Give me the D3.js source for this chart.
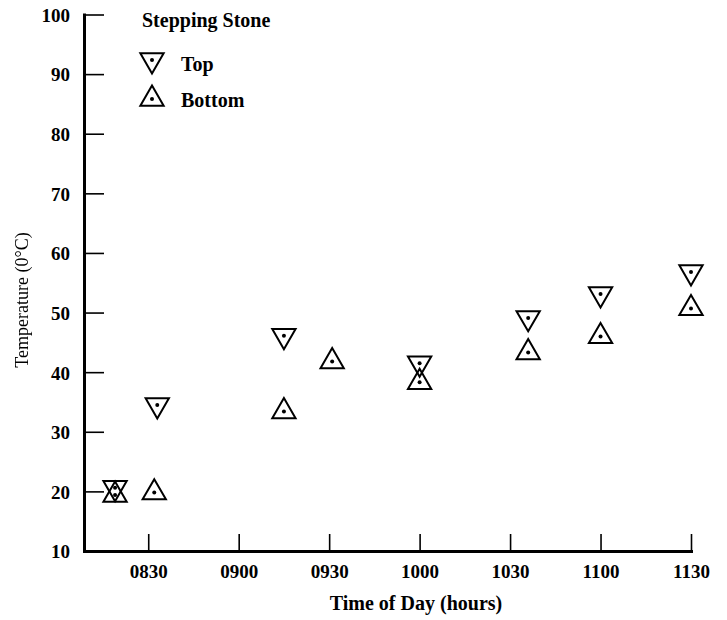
<!DOCTYPE html>
<html>
<head>
<meta charset="utf-8">
<script src="https://cdn.jsdelivr.net/npm/d3@7"></script>
<style>
  body { margin: 0; background: #fff; }
  svg { display: block; }
  text { font-family: "Liberation Serif", "DejaVu Serif", serif; fill: #000; }
  .ylabel { filter: grayscale(1); }
</style>
</head>
<body>
<svg id="chart"></svg>
<script>
// Readings taken off the figure (time as hhmm, temperature in °C)
const topTimes = ['0819', '0833', '0915', '1000', '1036', '1100', '1130'];
const topTemps = [20.6, 34.5, 46.1, 41.5, 49.1, 53.1, 56.8];
const bottomTimes = ['0819', '0832', '0915', '0931', '1000', '1036', '1100', '1130'];
const bottomTemps = [19.4, 19.8, 33.4, 41.8, 38.3, 43.3, 46.0, 50.7];
const xTickLabels = ['0830', '0900', '0930', '1000', '1030', '1100', '1130'];
const yTicks = [10, 20, 30, 40, 50, 60, 70, 80, 90, 100];

const width = 727, height = 620;
const margin = { top: 14.5, right: 36, bottom: 69, left: 84 };

// hhmm -> minutes after 0800
const toMin = s => (+s.slice(0, 2) - 8) * 60 + (+s.slice(2));

const svg = d3.select('#chart').attr('width', width).attr('height', height);

const x = d3.scaleLinear().domain([8.7, 210]).range([margin.left, width - margin.right]);
const y = d3.scaleLinear().domain([10, 100]).range([height - margin.bottom, margin.top]);

// Y axis, ticks pointing inward
const yAxis = svg.append('g')
  .attr('transform', `translate(${margin.left},0)`)
  .call(d3.axisLeft(y).tickValues(yTicks).tickSizeInner(-20).tickSizeOuter(0).tickPadding(14));

// X axis, ticks pointing up
const xAxis = svg.append('g')
  .attr('transform', `translate(0,${y(10)})`)
  .call(d3.axisBottom(x).tickValues(xTickLabels.map(toMin))
    .tickFormat((d, i) => xTickLabels[i]).tickSizeInner(-17).tickSizeOuter(0).tickPadding(14));

[yAxis, xAxis].forEach(a => {
  a.select('.domain').attr('stroke', '#000').attr('stroke-width', 3).attr('stroke-linecap', 'square');
  a.selectAll('.tick line').attr('stroke', '#000').attr('stroke-width', 1.6);
  a.selectAll('.tick text')
    .style('font-family', '"Liberation Serif", serif')
    .style('font-size', '19px').style('font-weight', 'bold').attr('fill', '#000');
});
yAxis.selectAll('.tick text').attr('dy', '0.36em');

// Axis titles
svg.append('text')
  .attr('x', 416)
  .attr('y', 610)
  .attr('text-anchor', 'middle')
  .attr('fill', '#000')
  .style('font-size', '20px').style('font-weight', 'bold')
  .text('Time of Day (hours)');

svg.append('text')
  .attr('class', 'ylabel')
  .attr('transform', 'translate(28,300) rotate(-90)')
  .attr('text-anchor', 'middle')
  .attr('fill', '#000')
  .style('font-size', '18px')
  .text('Temperature (0°C)');

// Triangle markers with a centre dot
const triSize = 235;
const tri = d3.symbol().type(d3.symbolTriangle).size(triSize);

const drawMarker = (g, down) => {
  g.append('path')
    .attr('d', tri)
    .attr('transform', down ? 'rotate(180)' : null)
    .attr('fill', 'none')
    .attr('stroke', '#000')
    .attr('stroke-width', 2);
  g.append('circle').attr('r', 2).attr('fill', '#000');
};

const topData = topTimes.map((t, i) => ({ t: toMin(t), v: topTemps[i] }));
const bottomData = bottomTimes.map((t, i) => ({ t: toMin(t), v: bottomTemps[i] }));

svg.append('g').selectAll('g')
  .data(bottomData)
  .join('g')
  .attr('transform', d => `translate(${x(d.t)},${y(d.v)})`)
  .each(function () { drawMarker(d3.select(this), false); });

svg.append('g').selectAll('g')
  .data(topData)
  .join('g')
  .attr('transform', d => `translate(${x(d.t)},${y(d.v)})`)
  .each(function () { drawMarker(d3.select(this), true); });

// Legend
const legend = svg.append('g');
legend.append('text')
  .attr('x', 142).attr('y', 27)
  .style('font-size', '20px').style('font-weight', 'bold')
  .text('Stepping Stone');

const legendItems = [
  { label: 'Top', down: true, cy: 60 },
  { label: 'Bottom', down: false, cy: 99 }
];
legendItems.forEach(item => {
  const g = legend.append('g').attr('transform', `translate(152,${item.cy})`);
  drawMarker(g, item.down);
  legend.append('text')
    .attr('x', 181).attr('y', item.down ? 71 : 107)
    .style('font-size', '20px').style('font-weight', 'bold')
    .text(item.label);
});
</script>
</body>
</html>
